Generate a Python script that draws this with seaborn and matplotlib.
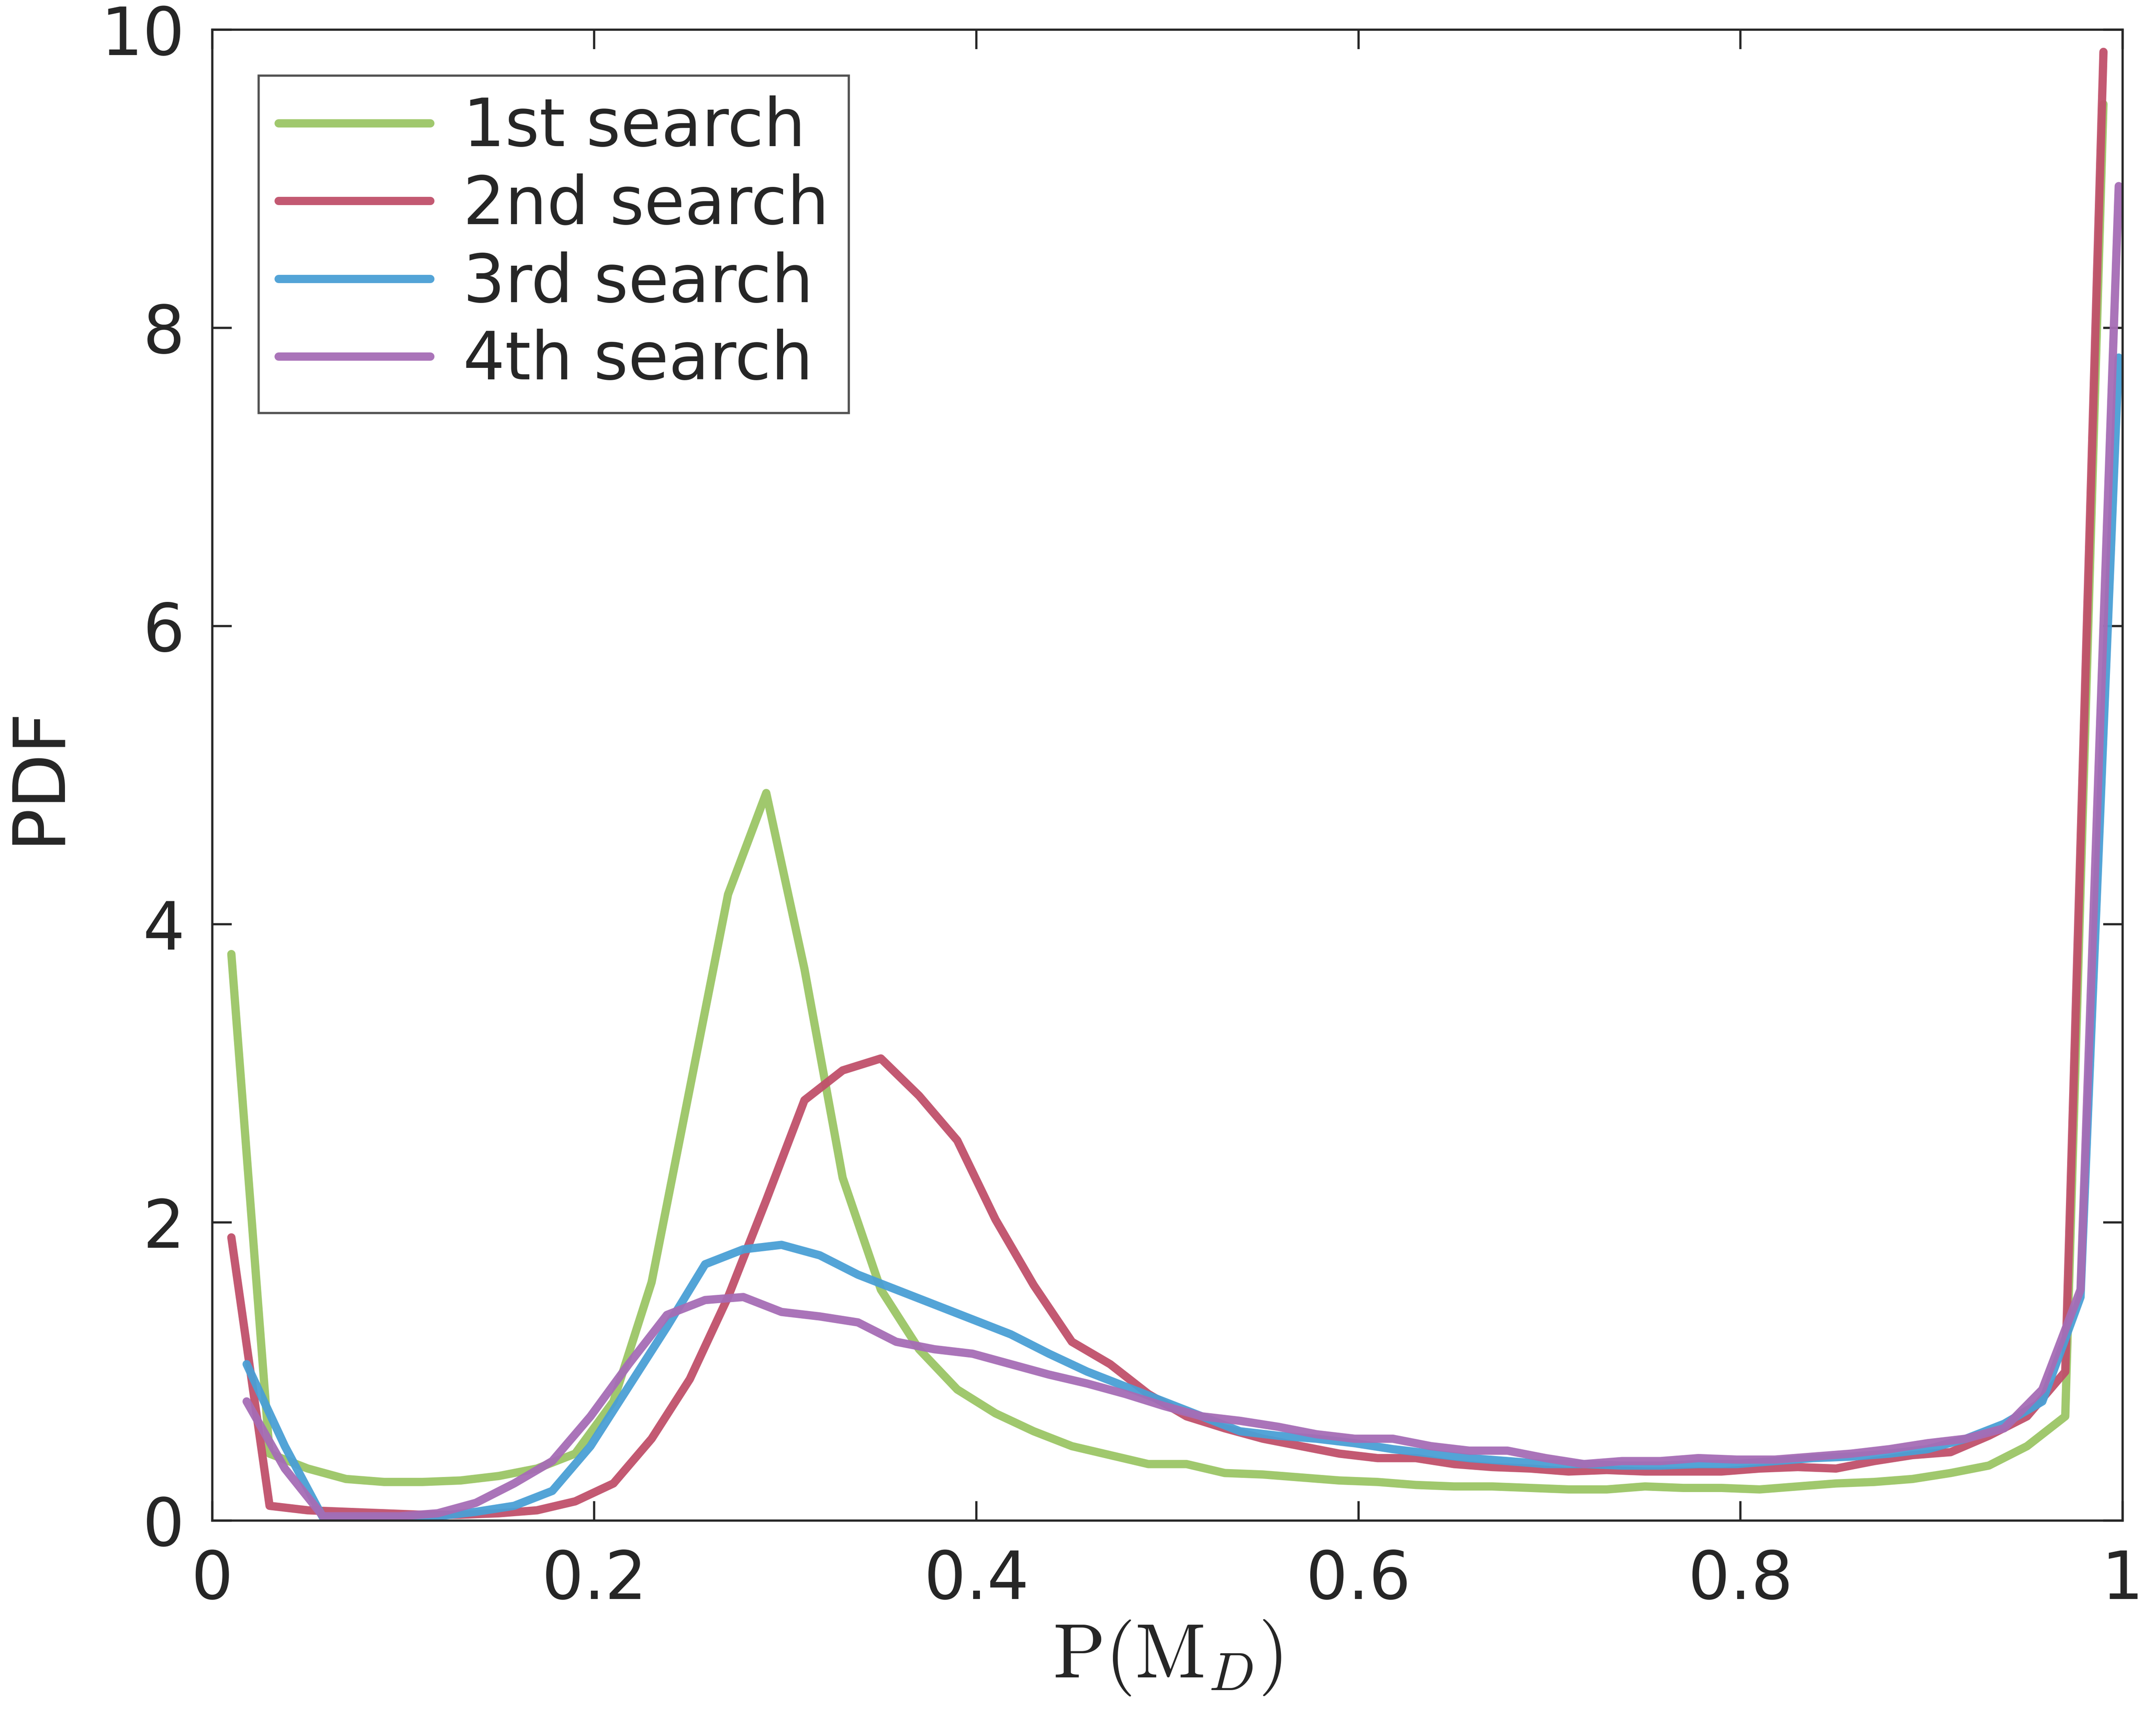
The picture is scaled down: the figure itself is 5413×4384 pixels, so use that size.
import numpy as np
import pandas as pd
import seaborn as sns
import matplotlib.pyplot as plt

x_a = [round(0.01 + 0.02 * i, 3) for i in range(50)]
x_b = [round(0.018 + 0.02 * i, 3) for i in range(50)]

first = [3.8, 0.45, 0.35, 0.28, 0.26, 0.26, 0.27, 0.3, 0.35, 0.45,
         0.8, 1.6, 2.9, 4.2, 4.88, 3.7, 2.3, 1.55, 1.15, 0.88,
         0.72, 0.6, 0.5, 0.44, 0.38, 0.38, 0.32, 0.31, 0.29, 0.27,
         0.26, 0.24, 0.23, 0.23, 0.22, 0.21, 0.21, 0.23, 0.22, 0.22,
         0.21, 0.23, 0.25, 0.26, 0.28, 0.32, 0.37, 0.5, 0.7, 9.5]
second = [1.9, 0.1, 0.07, 0.06, 0.05, 0.04, 0.04, 0.05, 0.07, 0.13,
          0.25, 0.55, 0.95, 1.5, 2.15, 2.82, 3.02, 3.1, 2.85, 2.55,
          2.02, 1.58, 1.2, 1.05, 0.85, 0.7, 0.62, 0.55, 0.5, 0.45,
          0.42, 0.42, 0.38, 0.36, 0.35, 0.33, 0.34, 0.33, 0.33, 0.33,
          0.35, 0.36, 0.35, 0.4, 0.44, 0.46, 0.57, 0.7, 1.0, 9.85]
third = [1.05, 0.5, 0.02, 0.02, 0.02, 0.03, 0.06, 0.1, 0.2, 0.5,
         0.9, 1.3, 1.72, 1.82, 1.85, 1.78, 1.65, 1.55, 1.45, 1.35,
         1.25, 1.12, 1.0, 0.9, 0.8, 0.7, 0.6, 0.57, 0.55, 0.52,
         0.48, 0.45, 0.42, 0.4, 0.38, 0.38, 0.37, 0.37, 0.38, 0.38,
         0.4, 0.42, 0.43, 0.45, 0.48, 0.55, 0.65, 0.8, 1.5, 7.8]
fourth = [0.8, 0.35, 0.03, 0.03, 0.03, 0.05, 0.12, 0.25, 0.4, 0.7,
          1.05, 1.38, 1.48, 1.5, 1.4, 1.37, 1.33, 1.2, 1.15, 1.12,
          1.05, 0.98, 0.92, 0.85, 0.77, 0.7, 0.67, 0.63, 0.58, 0.55,
          0.55, 0.5, 0.47, 0.47, 0.42, 0.38, 0.4, 0.4, 0.42, 0.41,
          0.41, 0.43, 0.45, 0.48, 0.52, 0.55, 0.62, 0.88, 1.55, 8.95]

series = [("1st search", x_a, first, "#9bc565"),
          ("2nd search", x_a, second, "#c0506a"),
          ("3rd search", x_b, third, "#4a9fd5"),
          ("4th search", x_b, fourth, "#a66cb5")]

sns.set_style("ticks")
plt.rcParams['font.family'] = ['DejaVu Sans']
plt.rcParams['mathtext.fontset'] = 'cm'

fig = plt.figure(figsize=(10.826, 8.768), dpi=500)
ax = fig.add_axes([0.099, 0.124, 0.891, 0.859])
for name, xs, ys, col in series:
    df = pd.DataFrame({"x": xs, "y": ys})
    sns.lineplot(data=df, x="x", y="y", ax=ax, color=col, linewidth=3.0,
                 alpha=0.95, label=name)

ax.set_xlim(0, 1)
ax.set_ylim(0, 10)
ax.set_xticks([0, 0.2, 0.4, 0.6, 0.8, 1])
ax.set_xticklabels(["0", "0.2", "0.4", "0.6", "0.8", "1"])
ax.set_yticks([0, 2, 4, 6, 8, 10])
ax.tick_params(direction="in", top=True, right=True, labelsize=24, colors="#262626",
               length=7, width=0.8, pad=10)
for s in ax.spines.values():
    s.set_linewidth(0.8)
    s.set_color("#262626")
ax.set_xlabel(r"$\mathrm{P}(\mathrm{M}_D)$", fontsize=28, color="#262626", labelpad=2)
ax.set_ylabel("PDF", fontsize=26, color="#262626", labelpad=10)
leg = ax.legend(loc="upper left", fontsize=24, frameon=True, fancybox=False,
                edgecolor="#262626", handlelength=2.3, borderaxespad=0.7,
                labelspacing=0.2, borderpad=0.3, handletextpad=0.5)
leg.get_frame().set_linewidth(0.8)
fig.savefig("out.png", dpi=500)
